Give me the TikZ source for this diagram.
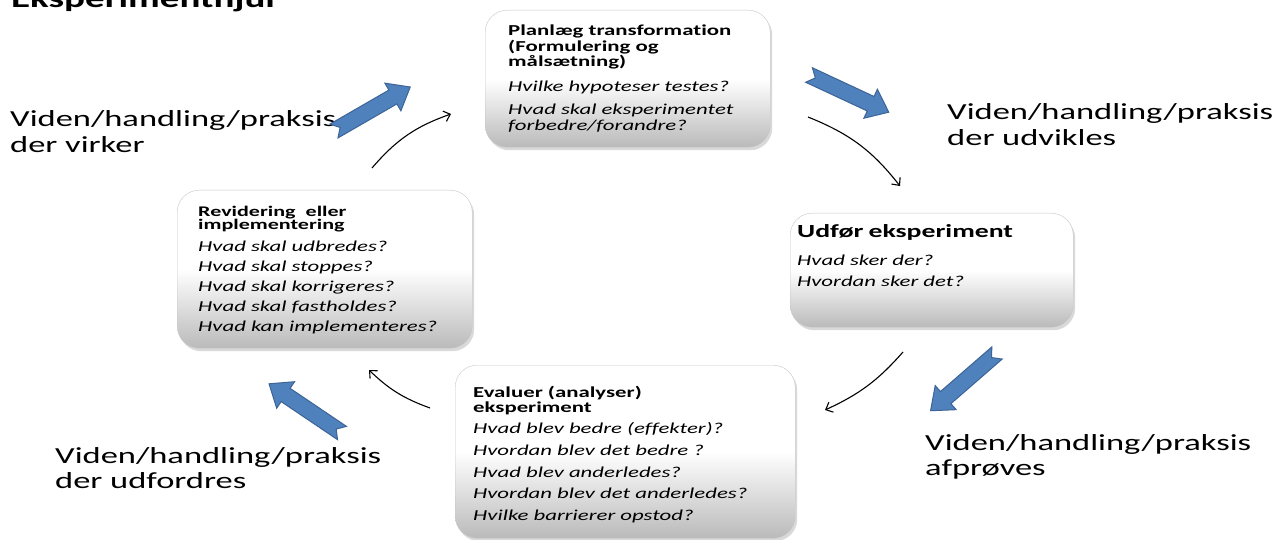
\documentclass[tikz,border=0pt]{standalone}
\usepackage{fontspec}
\setmainfont{Carlito}[FakeStretch=1.5, Ligatures=NoCommon]
\usetikzlibrary{shadows,arrows.meta}
\setlength\parindent{0pt}

\definecolor{officeblue}{RGB}{79,129,189}
\definecolor{officeedge}{RGB}{60,100,150}

\tikzset{
  fatarrow/.pic={
    \draw[fill=officeblue, draw=officeedge, line width=1pt]
      (0,8) -- (68,8) -- (68,16) -- (88,0) -- (68,-16) -- (68,-8) -- (0,-8) -- (7,0) -- cycle;
  }
}

\begin{document}
\begin{tikzpicture}[x=1pt, y=1pt,
    box/.style={draw=black!22, rounded corners=22pt, anchor=north west,
                top color=white, bottom color=black!27, middle color=white,
                drop shadow={shadow xshift=2pt, shadow yshift=-3pt, opacity=0.3}},
    boxtxt/.style={anchor=base west, align=left, inner sep=0pt},
    side/.style={anchor=base west, align=left, inner sep=0pt, text width=360pt,
                 font=\fontsize{23}{25.5}\selectfont},
    cyc/.style={->, >={Straight Barb[length=6pt, width=11pt]}, line width=1.1pt}
  ]
  \useasboundingbox (0,0) rectangle (1278,-540);

  % title, cut at the top
  \node[anchor=base west, inner sep=0pt, font=\fontsize{26}{30}\selectfont\bfseries] (title) at (11,-8) {Eksperimenthjul};

  % the four boxes
  \node[box, minimum width=285pt, minimum height=137pt] (plan) at (485,-10) {};
  \node[box, minimum width=283pt, minimum height=114pt] (udfor) at (790,-213) {};
  \node[box, minimum width=340pt, minimum height=173pt] (evalu) at (455,-365) {};
  \node[box, minimum width=295pt, minimum height=158pt] (revid) at (177,-190) {};

  \node[boxtxt, text width=262pt, font=\fontsize{15.2}{15.5}\selectfont] (plantxt) at (508,-36) {%
    \bfseries Planlæg transformation\\(Formulering og\\målsætning)\par
    \vspace{9.5pt}\mdseries\itshape Hvilke hypoteser testes?\par
    \vspace{7.5pt}Hvad skal eksperimentet\\forbedre/forandre?};

  \node[boxtxt, text width=270pt, font=\fontsize{15.2}{21}\selectfont] (udfortxt) at (797,-238) {%
    {\fontsize{18.5}{21}\selectfont\bfseries Udfør eksperiment\par}
    \vspace{7pt}\itshape Hvad sker der?\\Hvordan sker det?};

  \node[boxtxt, text width=320pt, font=\fontsize{15.2}{21.7}\selectfont] (evalutxt) at (473,-397) {%
    {\fontsize{15.2}{15}\selectfont\bfseries Evaluer (analyser)\\eksperiment\par}
    \itshape Hvad blev bedre (effekter)?\\Hvordan blev det bedre ?\\Hvad blev anderledes?\\
    Hvordan blev det anderledes?\\Hvilke barrierer opstod?};

  \node[boxtxt, text width=272pt, font=\fontsize{15.2}{20}\selectfont] (revidtxt) at (198,-217) {%
    {\fontsize{14.7}{13}\selectfont\bfseries Revidering\ \ eller\\implementering\par}
    \vspace{2pt}\itshape Hvad skal udbredes?\\Hvad skal stoppes?\\Hvad skal korrigeres?\\
    Hvad skal fastholdes?\\Hvad kan implementeres?};

  % side labels
  \node[side] (virker) at (10,-127) {Viden/handling/praksis\\der virker};
  \node[side] (udvikles) at (947,-120) {Viden/handling/praksis\\der udvikles};
  \node[side] (afproves) at (925,-450) {Viden/handling/praksis\\afprøves};
  \node[side] (udfordres) at (55,-463) {Viden/handling/praksis\\der udfordres};

  % blue arrows
  \pic[rotate=30] at (334,-131) {fatarrow};
  \pic[rotate=-25] at (809,-75) {fatarrow};
  \pic[rotate=-139] at (997,-353) {fatarrow};
  \pic[rotate=146] at (342,-433) {fatarrow};

  % thin cycle arrows
  \coordinate (revOut) at (372,-168);
  \coordinate (planIn) at (451,-114);
  \coordinate (planOut) at (808,-117);
  \coordinate (udforIn) at (900,-186);
  \coordinate (udforOut) at (903,-352);
  \coordinate (evaluIn) at (825,-410);
  \coordinate (evaluOut) at (430,-408);
  \coordinate (revIn) at (369,-370);

  \draw[cyc] (revOut) to[bend left=15] (planIn);
  \draw[cyc] (planOut) to[bend left=15] (udforIn);
  \draw[cyc] (udforOut) to[bend left=12] (evaluIn);
  \draw[cyc] (evaluOut) to[bend left=12] (revIn);
\end{tikzpicture}
\end{document}
